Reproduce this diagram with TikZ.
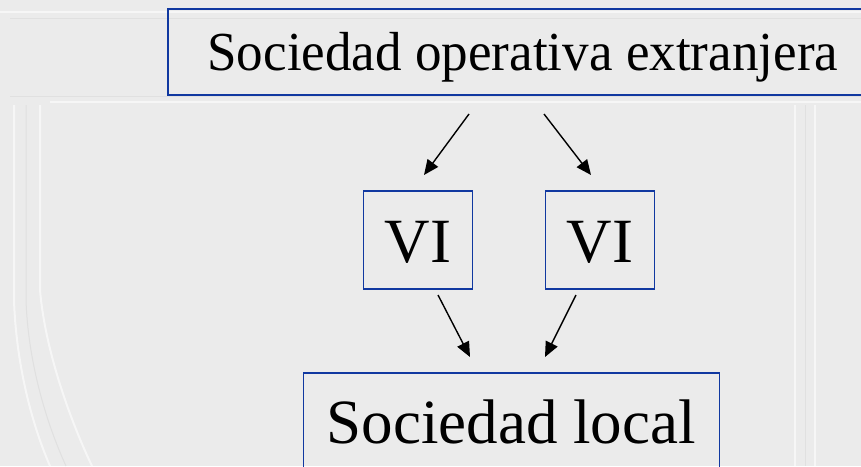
\documentclass[tikz,border=0pt]{standalone}
\usepackage{fontspec}
\setmainfont{Liberation Serif}
\usetikzlibrary{arrows.meta}
\definecolor{bg}{RGB}{235,235,235}
\definecolor{boxblue}{RGB}{16,56,160}
\definecolor{faintw}{RGB}{246,246,246}
\definecolor{faintg}{RGB}{224,224,224}
\tikzset{
  box/.style={draw=boxblue, line width=1.6pt, inner sep=0pt, align=center},
  arr/.style={line width=1.4pt, -{Triangle[length=15pt,width=13pt]}},
  deco/.style={line width=2pt, faintw},
  decog/.style={line width=1pt, faintg},
}
\begin{document}
\begin{tikzpicture}[x=1pt,y=-1pt]
\useasboundingbox (0,0) rectangle (861,466);
\clip (0,0) rectangle (861,466);
\fill[bg] (0,0) rectangle (861,466);
% faint template lines
\draw[deco] (0,12) -- (861,12);
\draw[deco] (50,102) -- (861,102);
\draw[decog] (10,96) -- (861,96);
\draw[decog] (10,18) -- (861,18);
\draw[deco] (14,105) -- (14,300) .. controls (16,360) and (30,420) .. (50,466);
\draw[deco] (40,105) -- (40,290) .. controls (45,350) and (70,420) .. (92,466);
\draw[decog] (26,105) -- (26,300) .. controls (28,360) and (45,420) .. (66,466);
\draw[deco] (795,105) -- (795,466);
\draw[deco] (815,105) -- (815,466);
\draw[decog] (805,105) -- (805,466);
% nodes
\node[box, anchor=north west, minimum width=710pt, text height=62pt, text depth=24pt,
      font=\fontsize{55}{60}\selectfont] (top) at (167,8) {\scalebox{0.965}[1]{Sociedad operativa extranjera}};
\node[box, anchor=north west, minimum width=109pt, text height=72pt, text depth=26pt,
      font=\fontsize{63}{70}\selectfont] (vi1) at (362.5,190) {VI};
\node[box, anchor=north west, minimum width=109pt, text height=72pt, text depth=26pt,
      font=\fontsize{63}{70}\selectfont] (vi2) at (544.5,190) {VI};
\node[box, anchor=north west, minimum width=416pt, text height=71pt, text depth=60pt,
      font=\fontsize{63}{70}\selectfont] (loc) at (302.5,372) {Sociedad local};
% connector end points
\coordinate (a1s) at (469,114); \coordinate (a1e) at (424,175);
\coordinate (a2s) at (544,114); \coordinate (a2e) at (591,175);
\coordinate (b1s) at (438,295); \coordinate (b1e) at (470,357);
\coordinate (b2s) at (576,295); \coordinate (b2e) at (545,357);
\draw[arr] (a1s) -- (a1e);
\draw[arr] (a2s) -- (a2e);
\draw[arr] (b1s) -- (b1e);
\draw[arr] (b2s) -- (b2e);
\end{tikzpicture}
\end{document}
